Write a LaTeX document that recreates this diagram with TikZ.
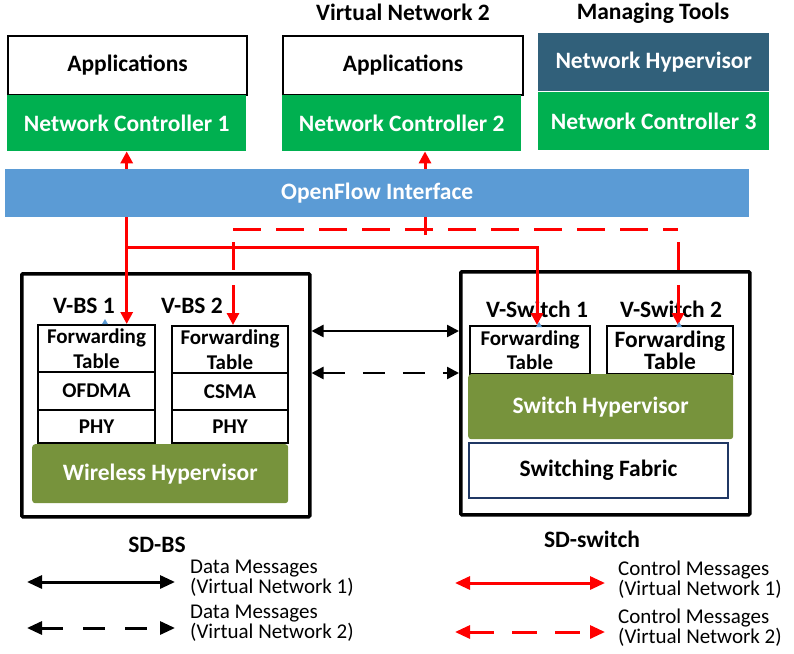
\documentclass[tikz,border=0pt]{standalone}
\usepackage{fontspec}
\setmainfont{Carlito}
\usetikzlibrary{calc}
\usetikzlibrary{arrows.meta}

\definecolor{ncgreen}{HTML}{00B050}
\definecolor{hvslate}{HTML}{31607A}
\definecolor{ofblue}{HTML}{5B9BD5}
\definecolor{hvolive}{HTML}{77933C}
\definecolor{fabnavy}{HTML}{203864}
\definecolor{msgred}{HTML}{FF0000}

\begin{document}
\begin{tikzpicture}[x=1pt,y=-1pt,
  every node/.style={inner sep=0pt},
  bigtxt/.style={font=\fontsize{23.5}{26}\selectfont\bfseries},
  midtxt/.style={font=\fontsize{21}{25}\selectfont\bfseries, align=center},
  legtxt/.style={font=\fontsize{21}{16}\selectfont, align=left, anchor=west},
  wbox/.style={draw=black, line width=2pt, fill=white, anchor=north west},
  gbox/.style={fill=ncgreen, text=white, anchor=north west},
  hvbox/.style={fill=hvolive, text=white, rounded corners=3pt, anchor=north west},
  outer/.style={draw=black, line width=3.5pt, rounded corners=1pt, anchor=north west},
  ctrl/.style={draw=msgred, line width=3pt},
  ctrldash/.style={ctrl, dash pattern=on 28pt off 15pt},
  data/.style={draw=black, line width=2.5pt},
  legarr/.style={line width=3pt, >={Triangle[length=15pt,width=13pt]}},
  >={Triangle[length=12pt,width=12pt]}
]
\useasboundingbox (0,0) rectangle (794,653);

% controllers
\node[bigtxt, anchor=base] (vn2) at (403,20) {Virtual Network 2};
\node[bigtxt, anchor=base] (mtools) at (653,19) {Managing Tools};
\node[wbox, bigtxt, minimum width=239pt, minimum height=59pt] (app1) at (7,35) {Applications};
\node[gbox, bigtxt, minimum width=239pt, minimum height=56pt] (nc1) at (7,95) {Network Controller 1};
\node[wbox, bigtxt, minimum width=240pt, minimum height=59pt] (app2) at (282,35) {Applications};
\node[gbox, bigtxt, minimum width=239pt, minimum height=56pt] (nc2) at (282,95) {Network Controller 2};
\node[gbox, bigtxt, fill=hvslate, minimum width=231pt, minimum height=58pt] (nhv) at (538,33) {Network Hypervisor};
\node[gbox, bigtxt, minimum width=231pt, minimum height=58pt] (nc3) at (538,92) {Network Controller 3};

% SD-BS
\node[outer, minimum width=288pt, minimum height=243pt] (sdbs) at (20,272) {};
\node[bigtxt, anchor=base] (vbs1) at (84,313) {V-BS 1};
\node[bigtxt, anchor=base] (vbs2) at (192,313) {V-BS 2};
\node[wbox, midtxt, minimum width=117pt, minimum height=47pt] (bft1) at (37,324) {Forwarding\\Table};
\node[wbox, midtxt, minimum width=117pt, minimum height=38pt] (bmac1) at (37,371) {OFDMA};
\node[wbox, midtxt, minimum width=117pt, minimum height=33pt] (bphy1) at (37,409) {PHY};
\node[wbox, midtxt, minimum width=116pt, minimum height=47pt] (bft2) at (171,325) {Forwarding\\Table};
\node[wbox, midtxt, minimum width=116pt, minimum height=37pt] (bmac2) at (171,372) {CSMA};
\node[wbox, midtxt, minimum width=116pt, minimum height=33pt] (bphy2) at (171,409) {PHY};
\node[hvbox, bigtxt, minimum width=256pt, minimum height=59pt] (whv) at (32,444) {Wireless Hypervisor};

% SD-switch
\node[outer, minimum width=289pt, minimum height=243pt] (sdsw) at (459,270) {};
\node[bigtxt, anchor=base] (vsw1) at (537,317) {V-Switch 1};
\node[bigtxt, anchor=base] (vsw2) at (671,317) {V-Switch 2};
\node[wbox, midtxt, font=\fontsize{21}{24}\selectfont\bfseries, minimum width=120pt, minimum height=48pt] (sft1) at (469,325) {Forwarding\\Table};
\node[wbox, midtxt, font=\fontsize{23.5}{22}\selectfont\bfseries, minimum width=126pt, minimum height=48pt] (sft2) at (606,325) {Forwarding\\Table};
\node[hvbox, bigtxt, minimum width=265pt, minimum height=65pt] (shv) at (468,374) {Switch Hypervisor};
\node[wbox, bigtxt, draw=fabnavy, minimum width=259pt, minimum height=55pt] (sfab) at (468,442) {Switching Fabric};

\node[font=\fontsize{23.5}{26}\selectfont\bfseries, anchor=base] (lbs) at (157,552) {SD-BS};
\node[font=\fontsize{23.5}{26}\selectfont\bfseries, anchor=base] (lsw) at (592,547) {SD-switch};

% control messages
\coordinate (sj) at (126,247);
\coordinate (nj) at (425,235);
\coordinate (dl) at (233,229);
\coordinate (dr) at (678,229);
\draw[ctrl,<->] (nc1.south) -- (nc1.south |- bft1.north);
\draw[ctrl,->] (sj) -| (vsw1.center |- sft1.north);
\draw[ctrl,->] (nj) -- (nj |- nc2.south);
\draw[ctrldash] (dl) -- (dr);
\draw[ctrldash,->] ([yshift=-13pt]dl) -- (dl |- bft2.north);
\draw[ctrldash,->] ([yshift=-13pt]dr) -- (dr |- sft2.north);

\node[gbox, bigtxt, fill=ofblue, minimum width=744pt, minimum height=48pt] (ofi) at (5,169) {OpenFlow Interface};

% data messages
\draw[data,<->] (sdbs.east |- 0,331) -- (sdsw.west |- 0,331);
\draw[data,<->,dash pattern=on 22pt off 18pt] (sdbs.east |- 0,373) -- (sdsw.west |- 0,373);

\fill[ofblue] (102,324) -- (108,324) -- (105,319) -- cycle;
\fill[ofblue] (536,327) -- (542,327) -- (539,322) -- cycle;
\fill[ofblue] (676,327) -- (682,327) -- (679,322) -- cycle;

% legend
\node[legtxt] (dm1) at (190,578) {Data Messages\\(Virtual Network 1)};
\node[legtxt] (dm2) at (190,623) {Data Messages\\(Virtual Network 2)};
\node[legtxt] (cm1) at (618,580) {Control Messages\\(Virtual Network 1)};
\node[legtxt] (cm2) at (618,628) {Control Messages\\(Virtual Network 2)};
\coordinate (k1) at (27,582);  \coordinate (k2) at (175,582);
\coordinate (k3) at (27,628);  \coordinate (k4) at (175,628);
\coordinate (k5) at (455,583); \coordinate (k6) at (605,583);
\coordinate (k7) at (455,632); \coordinate (k8) at (605,632);
\draw[legarr,<->,black] (k1) -- (k2);
\draw[legarr,<->,black,dash pattern=on 22pt off 20pt] (k3) -- (k4);
\draw[legarr,<->,msgred] (k5) -- (k6);
\draw[legarr,<->,msgred,dash pattern=on 25pt off 18pt] (k7) -- (k8);
\end{tikzpicture}
\end{document}
